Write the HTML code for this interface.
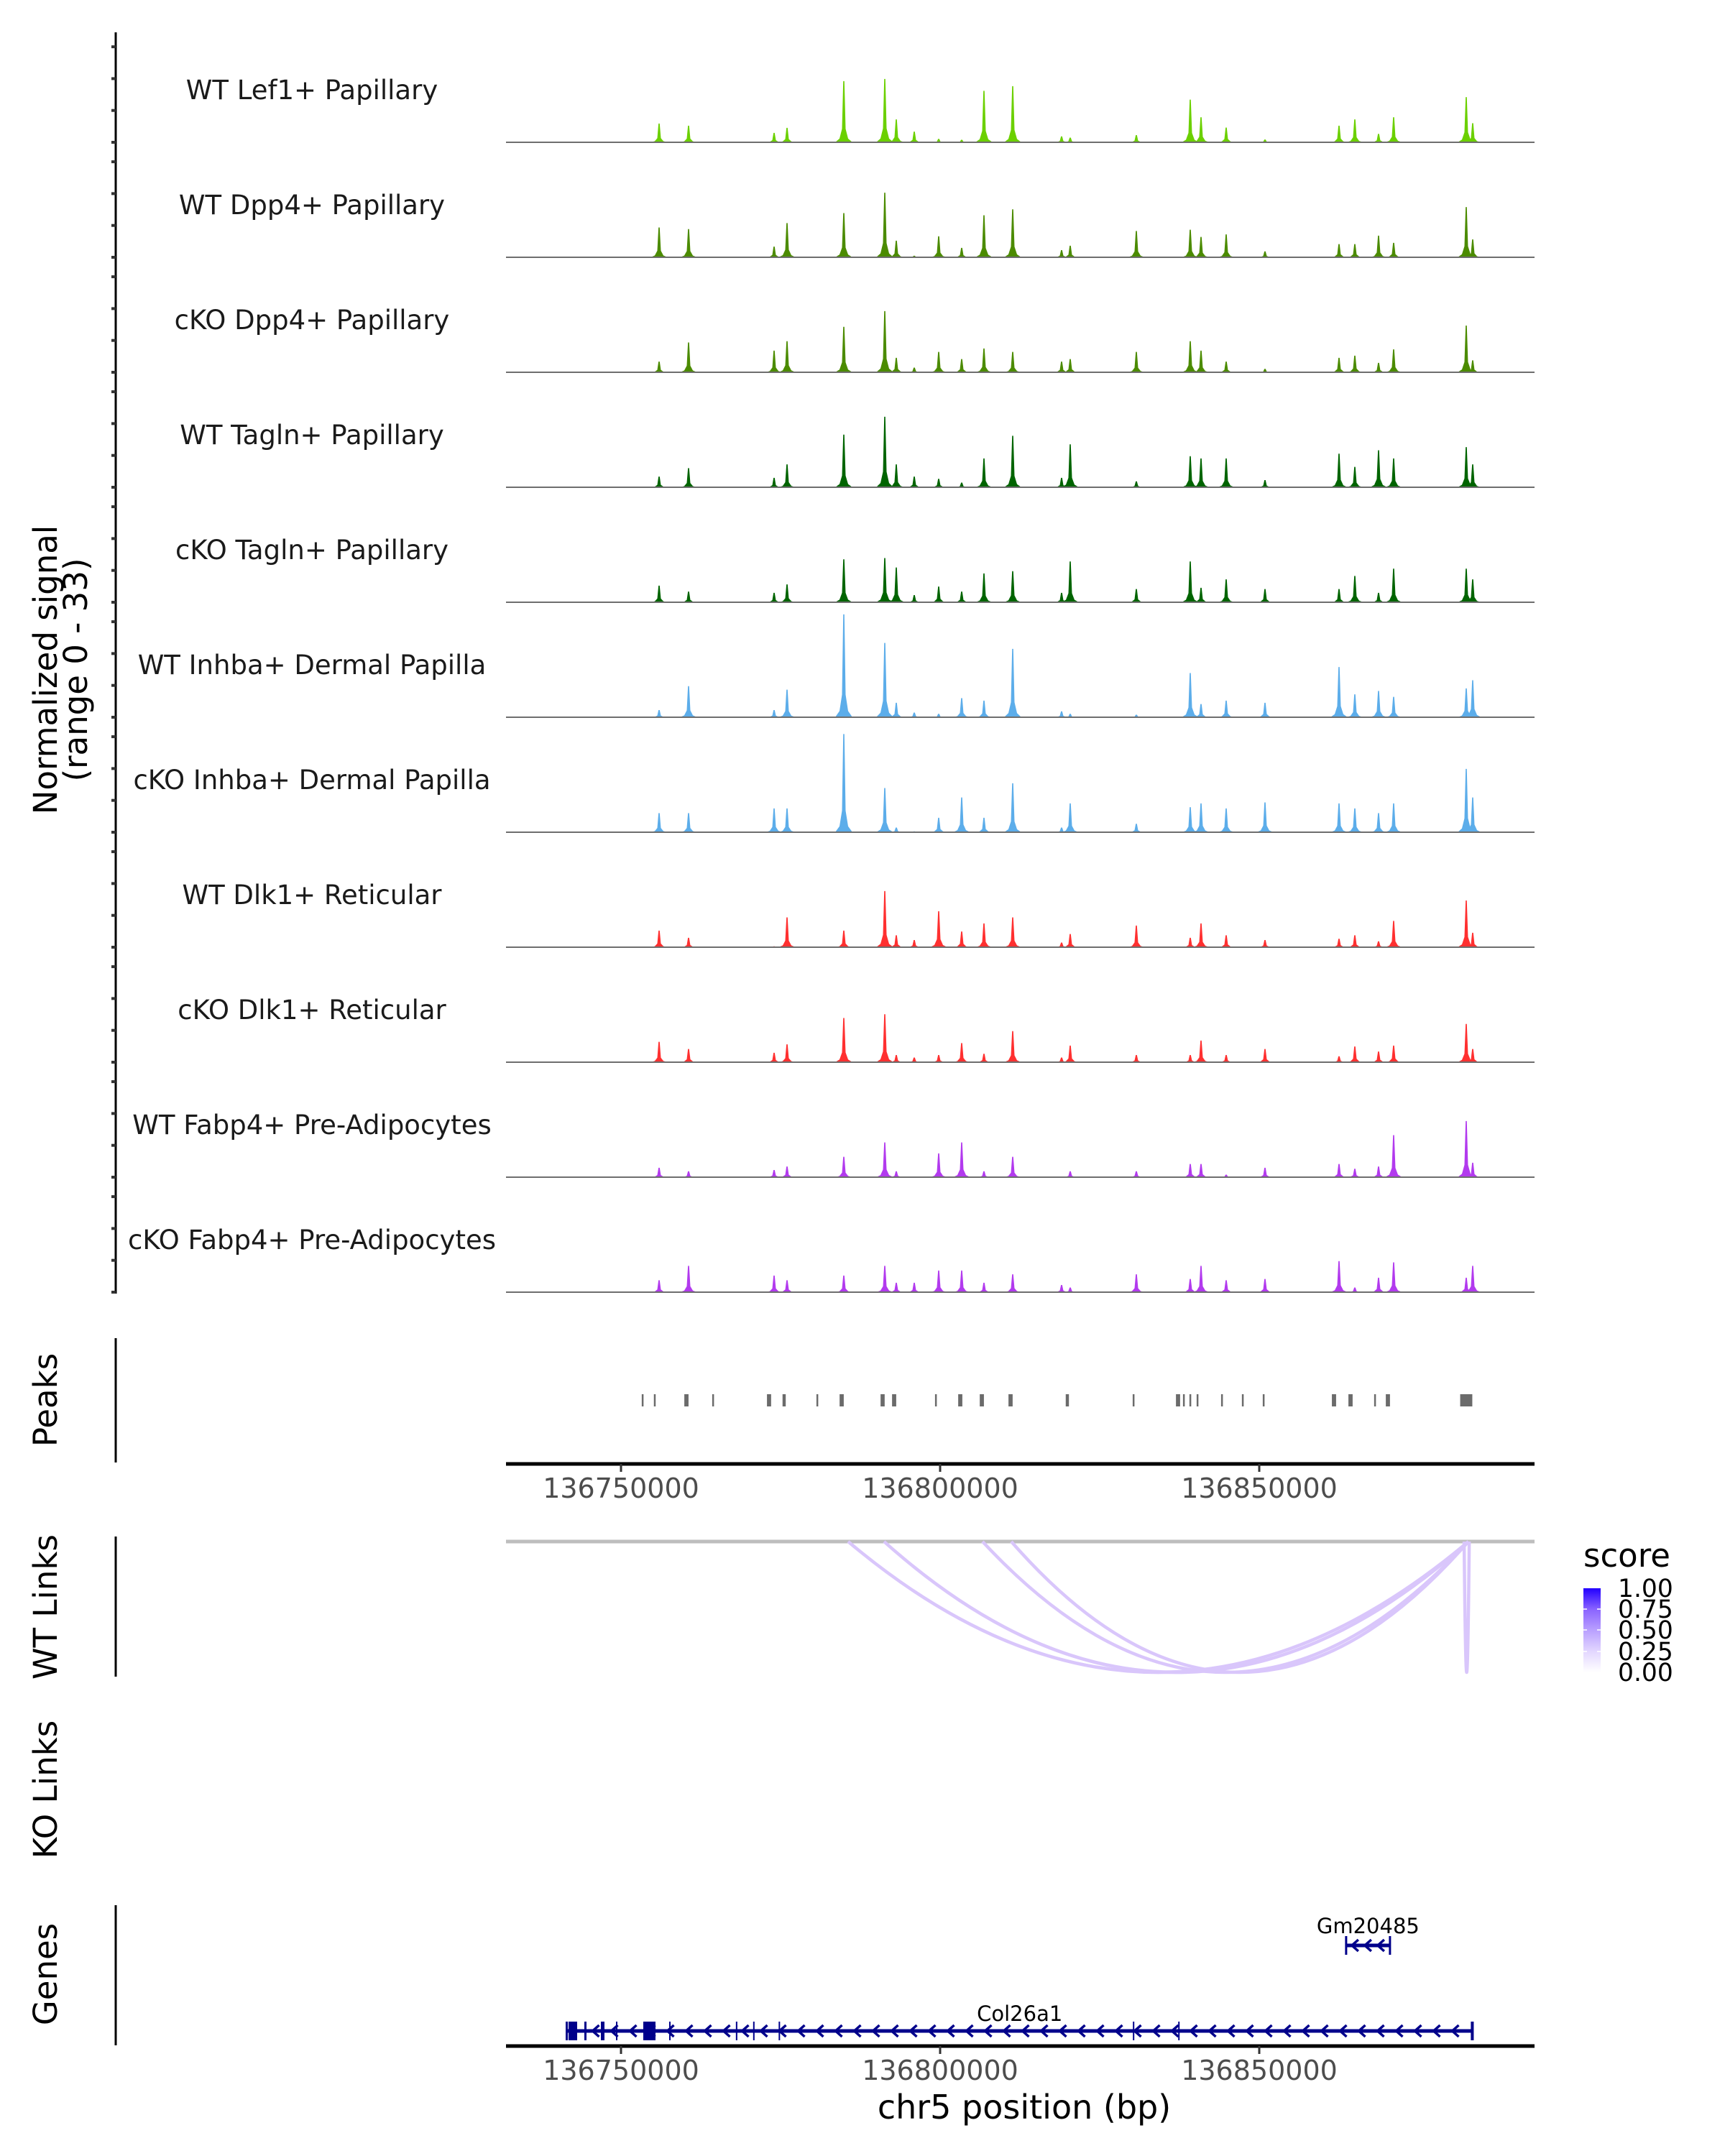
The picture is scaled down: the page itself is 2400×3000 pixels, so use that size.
<!DOCTYPE html>
<html><head><meta charset="utf-8"><title>Coverage plot chr5</title>
<style>
html,body{margin:0;padding:0;background:#fff;}
svg{display:block;}
text{font-family:"DejaVu Sans","Liberation Sans",sans-serif;}
</style></head>
<body>
<svg id="fig" xmlns="http://www.w3.org/2000/svg" width="2400" height="3000" viewBox="0 0 2400 3000">
<defs>
<linearGradient id="scoreGrad" x1="0" y1="1" x2="0" y2="0">
<stop offset="0" stop-color="#ffffff"/>
<stop offset="0.25" stop-color="#e2d6ff"/>
<stop offset="0.5" stop-color="#b9a0ff"/>
<stop offset="0.75" stop-color="#8a63ff"/>
<stop offset="1" stop-color="#2200ff"/>
</linearGradient>
</defs>
<rect width="2400" height="3000" fill="#fff"/>
<g id="tracks"></g>
<g id="leftaxis"></g>
<text transform="translate(79,932) rotate(-90)" text-anchor="middle" font-size="45" fill="#000">Normalized signal</text>
<text transform="translate(121,932) rotate(-90)" text-anchor="middle" font-size="45" fill="#000">(range 0 - 33)</text>

<!-- Peaks -->
<line x1="161" y1="1862" x2="161" y2="2035" stroke="#000" stroke-width="3"/>
<text transform="translate(79,1948) rotate(-90)" text-anchor="middle" font-size="45">Peaks</text>
<g id="peaks"></g>
<g id="axis1"></g>

<!-- Links -->
<line x1="161" y1="2138" x2="161" y2="2333" stroke="#000" stroke-width="3"/>
<text transform="translate(79,2236) rotate(-90)" text-anchor="middle" font-size="45">WT Links</text>
<text transform="translate(79,2490) rotate(-90)" text-anchor="middle" font-size="45">KO Links</text>
<line x1="704" y1="2145" x2="2135" y2="2145" stroke="#bebebe" stroke-width="5"/>
<g id="links"></g>

<!-- Legend -->
<g>
<text x="2203" y="2180" font-size="45">score</text>
<rect x="2203" y="2210" width="24" height="117" fill="url(#scoreGrad)"/>
<g fill="#000" font-size="34.5">
<text x="2251" y="2222">1.00</text>
<text x="2251" y="2251">0.75</text>
<text x="2251" y="2280">0.50</text>
<text x="2251" y="2310">0.25</text>
<text x="2251" y="2339">0.00</text>
</g>
<g stroke="#fff" stroke-width="1.5">
<line x1="2203" y1="2239" x2="2208" y2="2239"/><line x1="2222" y1="2239" x2="2227" y2="2239"/>
<line x1="2203" y1="2268" x2="2208" y2="2268"/><line x1="2222" y1="2268" x2="2227" y2="2268"/>
<line x1="2203" y1="2298" x2="2208" y2="2298"/><line x1="2222" y1="2298" x2="2227" y2="2298"/>
</g>
</g>

<!-- Genes -->
<line x1="161" y1="2651" x2="161" y2="2846" stroke="#000" stroke-width="3"/>
<text transform="translate(79,2747) rotate(-90)" text-anchor="middle" font-size="45">Genes</text>
<g id="genes"></g>
<g id="axis2"></g>
<text x="1425" y="2948" text-anchor="middle" font-size="46">chr5 position (bp)</text>
</svg>

<script>
// ---------- data ----------
const trackNames = ["WT Lef1+ Papillary","WT Dpp4+ Papillary","cKO Dpp4+ Papillary","WT Tagln+ Papillary","cKO Tagln+ Papillary","WT Inhba+ Dermal Papilla","cKO Inhba+ Dermal Papilla","WT Dlk1+ Reticular","cKO Dlk1+ Reticular","WT Fabp4+ Pre-Adipocytes","cKO Fabp4+ Pre-Adipocytes"];
const trackColors = ["#6bd000","#4b8b00","#4b8b00","#006400","#006400","#5cadea","#5cadea","#ff3030","#ff3030","#b23aee","#b23aee"];
const signalPos = [136755968,136760585,136773986,136776013,136784909,136791328,136793130,136795945,136799774,136803377,136806868,136811372,136819030,136820381,136830741,136839187,136840876,136844817,136850898,136862497,136864974,136868690,136871055,136882429,136883442];
const sigWTLef1   = [6.0,5.3,3.0,4.6,19.5,20.2,7.3,3.4,1.1,0.8,16.4,17.9,1.9,1.5,2.3,13.6,8.0,4.7,0.9,5.3,7.3,2.7,8.0,14.4,6.1];
const sigWTDpp4   = [9.5,9.0,3.4,10.9,14.1,20.6,5.3,0.5,6.7,3.0,13.4,15.3,2.3,3.7,8.4,8.8,6.5,7.3,1.9,4.2,4.2,6.9,4.6,16.0,5.7];
const sigKODpp4   = [3.4,9.5,6.9,9.9,14.5,19.5,4.6,1.5,6.5,4.2,7.6,6.5,3.4,4.2,6.5,9.9,6.9,3.4,1.1,4.6,5.3,3.0,7.3,14.9,3.8];
const sigWTTagln  = [3.4,6.1,3.0,7.3,16.8,22.5,7.3,3.4,2.7,1.5,9.2,16.4,3.0,13.7,1.9,9.9,9.2,9.2,2.3,10.7,6.5,11.8,9.2,12.8,7.3];
const sigKOTagln  = [5.3,3.4,3.0,5.7,13.7,14.1,11.1,2.3,5.0,3.4,9.2,9.9,3.0,13.0,4.2,13.0,4.6,7.3,4.2,4.2,8.4,3.0,10.7,10.7,7.3];
const sigWTInhba  = [2.3,9.9,2.3,8.8,32.8,23.7,4.6,1.5,1.1,6.1,5.3,21.8,1.9,1.1,0.8,14.1,4.2,5.3,4.6,16.0,7.3,8.4,6.5,9.2,11.8];
const sigKOInhba  = [6.1,6.1,7.6,7.6,31.3,14.1,1.5,0.3,4.6,11.1,4.6,15.6,1.5,9.2,2.7,8.0,9.2,7.6,9.5,9.2,7.6,6.1,9.2,20.2,11.1];
const sigWTDlk1   = [5.3,3.0,0.3,9.5,5.3,17.9,3.8,2.3,11.5,5.0,7.6,9.5,1.5,4.2,6.9,3.0,7.6,3.8,2.3,2.7,3.8,1.9,8.4,14.9,4.6];
const sigKODlk1   = [6.5,4.2,3.0,5.7,14.1,15.3,2.3,1.5,2.3,6.1,2.7,9.9,1.5,5.3,2.3,2.3,6.9,2.3,4.2,1.9,5.0,3.4,5.3,12.2,4.2];
const sigWTFabp4  = [3.0,1.9,2.3,3.4,6.5,11.1,1.9,0.2,7.6,11.1,1.9,6.5,0.2,1.9,1.9,4.2,4.2,0.8,3.0,4.2,2.7,3.4,13.4,17.9,4.6];
const sigKOFabp4  = [3.8,8.4,5.3,3.8,5.3,8.4,3.0,3.0,6.9,6.9,3.0,5.7,2.3,1.5,5.7,4.2,8.4,3.8,4.2,9.9,1.5,4.6,9.5,4.6,8.4];
const trackSignals = [sigWTLef1,sigWTDpp4,sigKODpp4,sigWTTagln,sigKOTagln,sigWTInhba,sigKOInhba,sigWTDlk1,sigKODlk1,sigWTFabp4,sigKOFabp4];
const yMax = 33;

const peakStarts = [136753250,136755150,136759920,136764290,136772870,136775310,136780620,136784250,136790670,136792470,136799200,136802830,136806210,136810710,136819680,136830170,136836950,136838050,136839060,136840190,136844020,136847280,136850550,136861380,136863970,136868000,136869830,136881480];
const peakEnds   = [136753500,136755430,136760580,136764540,136773520,136775810,136780860,136784900,136791310,136793120,136799450,136803480,136806860,136811360,136820180,136830410,136837600,136838300,136839310,136840440,136844260,136847530,136850800,136862040,136864630,136868250,136870480,136883380];

const linkStart = [136785586,136791216,136806644,136811149,136882100];
const linkEnd   = [136882770,136882770,136882770,136882770,136882900];
const linkScore = [0.2,0.2,0.2,0.2,0.2];

const geneStart = [136741500,136863611];
const geneEnd   = [136883437,136870480];
const geneNames = ["Col26a1","Gm20485"];
const exonStarts = [136741780,136744257,136746847,136749212,136753490,136757545,136768000,136770700,136774700,136830200,136837300,136883150];
const exonEnds   = [136743130,136744595,136747410,136749437,136755405,136757770,136768150,136770850,136774850,136830350,136837450,136883437];

const xTicks = [136750000,136800000,136850000];

// ---------- scales ----------
const X0 = 704, X1 = 2135, BP0 = 136731982, BP1 = 136893130;
function xs(bp){ return X0 + (bp - BP0) * (X1 - X0) / (BP1 - BP0); }
const firstBase = 198, trackStep = 160, trackPx = 144;
function ys(v, base){ return base - v / yMax * trackPx; }

const NS = "http://www.w3.org/2000/svg";
function mk(tag, parent){ const e = document.createElementNS(NS, tag); parent.appendChild(e); return e; }

// ---------- tracks ----------
const gT = document.getElementById("tracks");
const gA = document.getElementById("leftaxis");
const axLine = mk("line", gA);
axLine.setAttribute("x1",161); axLine.setAttribute("x2",161); axLine.setAttribute("y1",45); axLine.setAttribute("y2",1800);
axLine.setAttribute("stroke","#000"); axLine.setAttribute("stroke-width",3);
trackNames.forEach((name, t) => {
  const base = firstBase + t * trackStep;
  const g = mk("g", gT);
  
  
  const lbl = mk("text", g);
  
  
  lbl.setAttribute("x", 434); lbl.setAttribute("y", base - 60);
  lbl.setAttribute("text-anchor","middle"); lbl.setAttribute("font-size", 37); lbl.setAttribute("fill","#1a1a1a");
  lbl.textContent = name;
  const vals = trackSignals[t];
  signalPos.forEach((bp, i) => {
    const v = vals[i]; if (v <= 0) return;
    const x = xs(bp), top = ys(v, base), mid = ys(v*0.22, base), low = ys(v*0.06, base);
    const p = mk("polygon", g);
    
    
    p.setAttribute("points", `${x-12},${base} ${x-6},${low} ${x-2.5},${mid} ${x-0.8},${top} ${x+0.8},${top} ${x+2.5},${mid} ${x+6},${low} ${x+12},${base}`);
    p.setAttribute("fill", trackColors[t]);
  });
  const bl = mk("line", g);
  
  
  bl.setAttribute("x1", X0); bl.setAttribute("x2", X1); bl.setAttribute("y1", base); bl.setAttribute("y2", base);
  bl.setAttribute("stroke","#6e6e6e"); bl.setAttribute("stroke-width",2);
  for (let k = 0; k < 4; k++) {
    const tk = mk("line", gA);
    
    
    const y = base - k * 44.3;
    tk.setAttribute("x1",155); tk.setAttribute("x2",161); tk.setAttribute("y1",y); tk.setAttribute("y2",y);
    tk.setAttribute("stroke","#333"); tk.setAttribute("stroke-width",4);
  }
});

// ---------- peaks ----------
const gP = document.getElementById("peaks");
peakStarts.forEach((s, i) => {
  const r = mk("rect", gP);
  
  
  const x = xs(s), w = Math.max(2.5, xs(peakEnds[i]) - x);
  r.setAttribute("x", x); r.setAttribute("y", 1940); r.setAttribute("width", w); r.setAttribute("height", 17);
  r.setAttribute("fill", "#6b6b6b");
});

// ---------- genomic axes ----------
function drawAxis(id, y){
  const g = document.getElementById(id);
  const l = mk("line", g);
  l.setAttribute("x1", X0); l.setAttribute("x2", X1); l.setAttribute("y1", y); l.setAttribute("y2", y);
  l.setAttribute("stroke","#000"); l.setAttribute("stroke-width",5);
  xTicks.forEach(bp => {
    const x = xs(bp);
    const t = mk("line", g);
    
    
    t.setAttribute("x1", x); t.setAttribute("x2", x); t.setAttribute("y1", y); t.setAttribute("y2", y + 11);
    t.setAttribute("stroke","#333"); t.setAttribute("stroke-width",3);
    const tx = mk("text", g);
    
    
    tx.setAttribute("x", x); tx.setAttribute("y", y + 47); tx.setAttribute("text-anchor","middle");
    tx.setAttribute("font-size", 38); tx.setAttribute("fill","#4d4d4d");
    tx.textContent = String(bp);
  });
}
drawAxis("axis1", 2037);
drawAxis("axis2", 2847);

// ---------- links ----------
const gL = document.getElementById("links");
const linkTop = 2145, linkBottom = 2327;
linkStart.forEach((s, i) => {
  const x1 = xs(s), x2 = xs(linkEnd[i]);
  const ctrlY = 2 * linkBottom - linkTop;
  const p = mk("path", gL);
  
  
  p.setAttribute("d", `M${x1},${linkTop} Q${(x1+x2)/2},${ctrlY} ${x2},${linkTop}`);
  p.setAttribute("fill","none"); p.setAttribute("stroke", "#d9c6fb"); p.setAttribute("stroke-width", 4.5);
});

// ---------- genes ----------
const gG = document.getElementById("genes");
const geneY = [2826, 2707];
const geneLabelY = [2812, 2690];
geneStart.forEach((s, i) => {
  const x1 = xs(s), x2 = xs(geneEnd[i]), y = geneY[i];
  const g = mk("g", gG);
  
  
  const l = mk("line", g);
  l.setAttribute("x1", x1); l.setAttribute("x2", x2); l.setAttribute("y1", y); l.setAttribute("y2", y);
  l.setAttribute("stroke","#00008b"); l.setAttribute("stroke-width",5);
  const step = i === 0 ? 26 : 18;
  let d = "";
  for (let x = x1 + (i === 0 ? 40 : 12); x < x2 - 4; x += step) {
    d += `M${x+5},${y-8} L${x-4},${y} L${x+5},${y+8} `;
  }
  const ar = mk("path", g);
  
  
  ar.setAttribute("d", d); ar.setAttribute("fill","none"); ar.setAttribute("stroke","#00008b"); ar.setAttribute("stroke-width",3.5);
  [x1, x2].forEach(xe => {
    const e = mk("rect", g);
    e.setAttribute("x", xe - 1.5); e.setAttribute("y", y - 13); e.setAttribute("width", 3); e.setAttribute("height", 26);
    e.setAttribute("fill","#00008b");
  });
  const lb = mk("text", g);
  
  
  lb.setAttribute("x", (x1 + x2) / 2); lb.setAttribute("y", geneLabelY[i]);
  lb.setAttribute("text-anchor","middle"); lb.setAttribute("font-size", 29); lb.setAttribute("fill","#000");
  lb.textContent = geneNames[i];
});
exonStarts.forEach((s, i) => {
  const r = mk("rect", gG);
  
  
  const x = xs(s), w = Math.max(2, xs(exonEnds[i]) - x);
  r.setAttribute("x", x); r.setAttribute("y", 2813); r.setAttribute("width", w); r.setAttribute("height", 26);
  r.setAttribute("fill","#00008b");
});
</script>
</body></html>
